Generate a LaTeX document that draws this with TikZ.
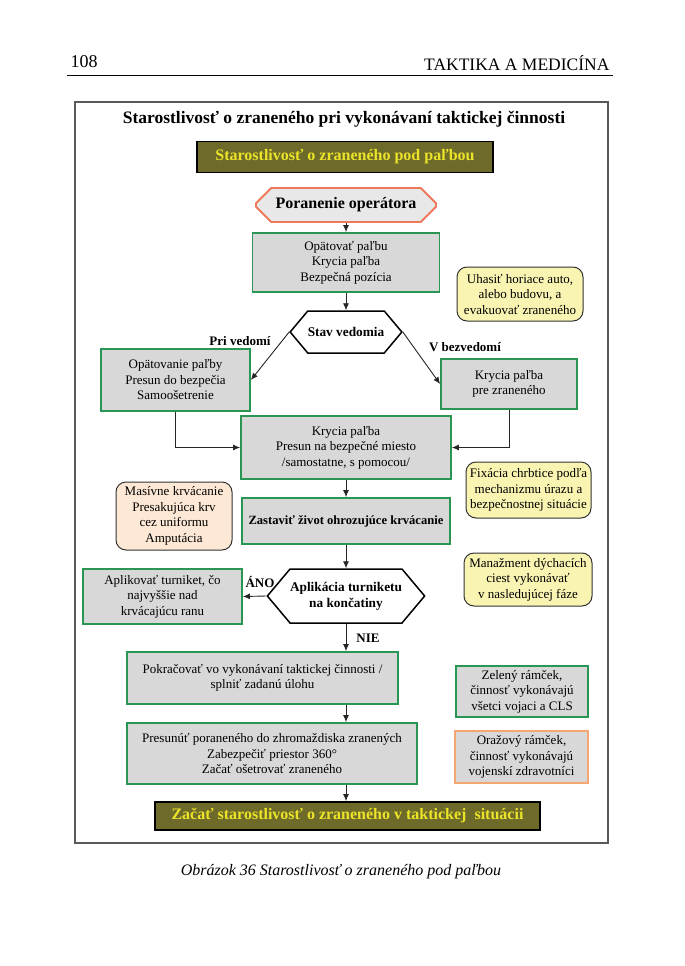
\documentclass[tikz,border=0pt]{standalone}
\usepackage{fontspec}
\setmainfont{Liberation Serif}
\usepackage{tikz}
\usetikzlibrary{shapes.misc,shapes.symbols,arrows.meta}

\definecolor{boxgray}{RGB}{216,216,216}
\definecolor{framegreen}{RGB}{42,150,84}
\definecolor{noteyellow}{RGB}{250,244,178}
\definecolor{notepeach}{RGB}{252,232,212}
\definecolor{bannerolive}{RGB}{110,106,42}
\definecolor{banneryellow}{RGB}{236,228,40}
\definecolor{octorange}{RGB}{238,120,90}
\definecolor{legendorange}{RGB}{246,166,112}

\begin{document}
\begin{tikzpicture}[x=1pt,y=-1pt,
  txt/.style={font=\fontsize{13}{15.5}\selectfont, align=center, inner sep=0pt},
  greenbox/.style={txt, draw=framegreen, line width=1.8pt, fill=boxgray},
  notebox/.style={txt, draw=black!80, line width=1pt, rounded corners=10pt, fill=noteyellow},
  banner/.style={draw=black, line width=1.8pt, fill=bannerolive, text=banneryellow, font=\fontsize{16}{18}\selectfont\bfseries, inner sep=0pt},
  hexa/.style={txt, shape=signal, signal to=west and east, signal pointer angle=100, draw=black, line width=1.5pt, fill=white, font=\fontsize{13.3}{16}\selectfont\bfseries},
  branch/.style={font=\fontsize{13}{15}\selectfont\bfseries, inner sep=0pt},
  arrow/.style={draw=black!85, line width=0.9pt, -{Latex[length=7pt,width=6pt]}}
]

    \useasboundingbox (0,0) rectangle (685,966);

    \node[anchor=west, font=\fontsize{18}{20}\selectfont] (pagenum) at (67,62) {108};
    \node[anchor=east, font=\fontsize{17.5}{20}\selectfont] (runhead) at (613,63) {TAKTIKA A MEDICÍNA};
    \draw[line width=0.8pt] (67,75) -- (613,75);

    \draw[draw=black!65, line width=1.5pt, fill=white] (75,102) rectangle (608,843);

    \node[font=\fontsize{17.5}{20}\selectfont\bfseries] (title) at (344,119) {Starostlivosť o zraneného pri vykonávaní taktickej činnosti};

    \node[banner, minimum width=296, minimum height=31] (top) at (345,157) {Starostlivosť o zraneného pod paľbou};

    \node[txt, shape=chamfered rectangle, chamfered rectangle xsep=11pt, chamfered rectangle ysep=8pt, draw=octorange, line width=1.8pt, fill=boxgray!60, font=\fontsize{16}{18}\selectfont\bfseries, minimum width=180, minimum height=34] (injury) at (346,205) {Poranenie operátora};

    \node[greenbox, minimum width=187, minimum height=59] (fire) at (346,262.5) {Opätovať paľbu\\Krycia paľba\\Bezpečná pozícia};

    \node[hexa, minimum width=108, minimum height=42] (consc) at (346,332) {Stav vedomia};

    \node[greenbox, minimum width=149, minimum height=62] (aware) at (175.5,380) {Opätovanie paľby\\Presun do bezpečia\\Samoošetrenie};
    \node[greenbox, minimum width=136, minimum height=50] (unaware) at (509,384) {Krycia paľba\\pre zraneného};

    \node[branch] (awarelbl) at (240,341) {Pri vedomí};
    \node[branch] (unawarelbl) at (465,347) {V bezvedomí};

    \node[notebox, minimum width=126, minimum height=54] (extinguish) at (520,294) {Uhasiť horiace auto,\\alebo budovu, a\\evakuovať zraneného};

    \node[greenbox, minimum width=210, minimum height=63] (move) at (346,447.5) {Krycia paľba\\Presun na bezpečné miesto\\/samostatne, s pomocou/};

    \node[notebox, minimum width=125, minimum height=56] (spine) at (528.5,490) {Fixácia chrbtice podľa\\mechanizmu úrazu a\\bezpečnostnej situácie};
    \node[notebox, fill=notepeach, minimum width=116, minimum height=68] (massive) at (174,516) {Masívne krvácanie\\Presakujúca krv\\cez uniformu\\Amputácia};

    \node[greenbox, font=\fontsize{12.6}{15}\selectfont\bfseries, minimum width=208, minimum height=46] (bleed) at (346,521) {Zastaviť život ohrozujúce krvácanie};

    \node[hexa, minimum width=152, minimum height=54] (tourniquet) at (346,596) {Aplikácia turniketu\\na končatiny};
    \node[greenbox, minimum width=159, minimum height=55] (apply) at (162.5,596.5) {Aplikovať turniket, čo\\najvyššie nad\\krvácajúcu ranu};
    \node[notebox, minimum width=128, minimum height=53] (airway) at (528,579.5) {Manažment dýchacích\\ciest vykonávať\\v nasledujúcej fáze};

    \node[branch] (yeslbl) at (260,582) {ÁNO};
    \node[branch] (nolbl) at (368,638) {NIE};

    \node[greenbox, minimum width=271, minimum height=52] (mission) at (262.5,678) {Pokračovať vo vykonávaní taktickej činnosti /\\splniť zadanú úlohu};
    \node[greenbox, minimum width=132, minimum height=51] (leggreen) at (522,691.5) {Zelený rámček,\\činnosť vykonávajú\\všetci vojaci a CLS};

    \node[greenbox, minimum width=290, minimum height=61] (ccp) at (272,753.5) {Presunúť poraneného do zhromaždiska zranených\\Zabezpečiť priestor 360°\\Začať ošetrovať zraneného};
    \node[greenbox, draw=legendorange, minimum width=133, minimum height=52] (legorange) at (521.5,757) {Oražový rámček,\\činnosť vykonávajú\\vojenskí zdravotníci};

    \node[banner, minimum width=385, minimum height=28] (bottom) at (347.5,816) {Začať starostlivosť o zraneného v taktickej\ \ situácii};

    \node[font=\fontsize{16}{18}\selectfont\itshape] (caption) at (341,872) {Obrázok 36 Starostlivosť o zraneného pod paľbou};

    \draw[arrow] (injury.south) -- (injury.south |- fire.north);
    \draw[arrow] (fire.south) -- (fire.south |- consc.north);
    \draw[arrow] (consc.west) -- (aware.east);
    \draw[arrow] (consc.east) -- (unaware.west);
    \draw[arrow] (aware.south) |- (move.west);
    \draw[arrow] (unaware.south) |- (move.east);
    \draw[arrow] (move.south) -- (move.south |- bleed.north);
    \draw[arrow] (bleed.south) -- (bleed.south |- tourniquet.north);
    \draw[arrow] (tourniquet.west) -- (apply.east);
    \draw[arrow] (tourniquet.south) -- (tourniquet.south |- mission.north);
    \draw[arrow] (tourniquet.south |- mission.south) -- (tourniquet.south |- ccp.north);
    \draw[arrow] (tourniquet.south |- ccp.south) -- (tourniquet.south |- bottom.north);

\end{tikzpicture}
\end{document}
